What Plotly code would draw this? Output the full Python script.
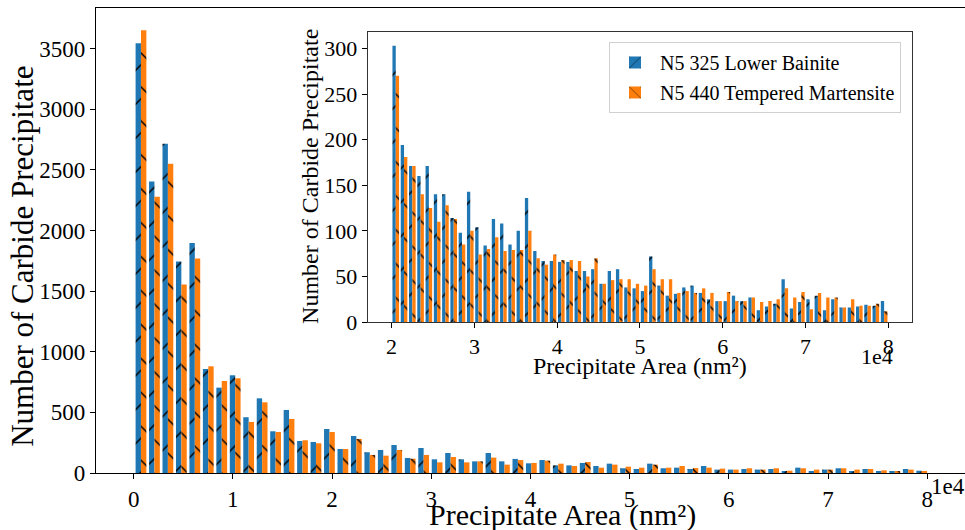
import numpy as np
import plotly.graph_objects as go

# ---------------- data ----------------
# Main histogram: 59 bins (area in nm^2)
main_bin_start = 62
main_bin_width = 1357
main_lower_bainite = [3544, 2405, 2716, 1745, 1896, 858, 704, 806, 460, 616,
                      344, 520, 264, 256, 363, 198, 305, 171, 190, 231,
                      124, 206, 113, 165, 113, 96, 165, 96, 116, 80,
                      107, 63, 63, 83, 58, 77, 39, 33, 77, 39,
                      44, 33, 58, 28, 28, 33, 28, 33, 14, 44,
                      14, 28, 39, 14, 33, 14, 14, 33, 19]
main_tempered_martensite = [3652, 2278, 2551, 1555, 1769, 880, 759, 781, 421, 583,
                            338, 446, 270, 245, 338, 198, 281, 149, 143, 190,
                            118, 149, 88, 132, 88, 96, 127, 69, 107, 83,
                            102, 77, 58, 91, 44, 69, 52, 44, 69, 44,
                            58, 41, 44, 36, 28, 39, 28, 39, 19, 39,
                            28, 28, 39, 28, 33, 22, 14, 28, 14]

# Inset histogram: 60 bins from 20000 to 80000 nm^2
inset_bin_start = 20000
inset_bin_width = 1000
inset_lower_bainite = [303, 194, 171, 160, 171, 140, 140, 114, 98, 143,
                       104, 84, 113, 108, 85, 100, 136,
                       78, 67, 67, 66, 66, 56, 56, 58, 42, 56, 58, 38, 37, 34, 72,
                       40, 29, 31, 38, 40, 32, 25, 23, 23, 29, 23, 27, 13, 17, 20,
                       47,
                       15, 22, 25, 29, 13, 25, 16, 16, 17, 19, 18, 23]
inset_tempered_martensite = [270, 181, 171, 140, 125, 110, 128, 113, 85, 100,
                             74, 80, 93, 78, 79, 79, 100,
                             70, 63, 74, 68, 68, 67, 50, 70, 42, 46, 47, 47, 42, 40, 58,
                             47, 47, 32, 34, 32, 37, 32, 23, 33, 23, 23, 27, 22, 23, 25,
                             37,
                             27, 33, 14, 32, 27, 27, 16, 25, 18, 18, 20, 12]

series_names = ["N5 325 Lower Bainite", "N5 440 Tempered Martensite"]
main_x_tickvals = [0, 10000, 20000, 30000, 40000, 50000, 60000, 70000, 80000]
main_x_ticktext = ["0", "1", "2", "3", "4", "5", "6", "7", "8"]
main_y_tickvals = [0, 500, 1000, 1500, 2000, 2500, 3000, 3500]
inset_x_tickvals = [20000, 30000, 40000, 50000, 60000, 70000, 80000]
inset_x_ticktext = ["2", "3", "4", "5", "6", "7", "8"]
inset_y_tickvals = [0, 50, 100, 150, 200, 250, 300]

# ---------------- styling ----------------
FONT = "Liberation Serif"
BLUE = "#1f77b4"
ORANGE = "#ff7f0e"

main_centers = main_bin_start + (np.arange(len(main_lower_bainite)) + 0.5) * main_bin_width
inset_centers = inset_bin_start + (np.arange(len(inset_lower_bainite)) + 0.5) * inset_bin_width


def pattern(shape):
    return dict(shape=shape, fgcolor="black", fgopacity=1, size=24,
                solidity=0.06, fillmode="overlay")


fig = go.Figure()
# main
fig.add_trace(go.Bar(x=main_centers, y=main_lower_bainite, name=series_names[0],
                     width=0.4 * main_bin_width, offset=-0.4 * main_bin_width,
                     marker=dict(color=BLUE, line=dict(width=0), pattern=pattern("/")),
                     xaxis="x", yaxis="y", showlegend=False))
fig.add_trace(go.Bar(x=main_centers, y=main_tempered_martensite, name=series_names[1],
                     width=0.4 * main_bin_width, offset=0,
                     marker=dict(color=ORANGE, line=dict(width=0), pattern=pattern("\\")),
                     xaxis="x", yaxis="y", showlegend=False))
# inset
fig.add_trace(go.Bar(x=inset_centers, y=inset_lower_bainite, name=series_names[0],
                     width=0.4 * inset_bin_width, offset=-0.4 * inset_bin_width,
                     marker=dict(color=BLUE, line=dict(width=0), pattern=pattern("/")),
                     xaxis="x2", yaxis="y2", legendgroup="a"))
fig.add_trace(go.Bar(x=inset_centers, y=inset_tempered_martensite, name=series_names[1],
                     width=0.4 * inset_bin_width, offset=0,
                     marker=dict(color=ORANGE, line=dict(width=0), pattern=pattern("\\")),
                     xaxis="x2", yaxis="y2", legendgroup="b"))

axis_common = dict(showgrid=False, zeroline=False, showline=True, mirror=True,
                   linecolor="black", linewidth=1.2, ticks="outside", ticklen=5,
                   tickwidth=1.2, tickcolor="black",
                   tickfont=dict(family=FONT, size=23, color="black"))

L, R, T, B = 96, 0, 8, 56.7
W, H = 965, 530
pw, ph = W - L - R, H - T - B


def px(xp):
    return (xp - L) / pw


def py(yp):
    return (H - B - yp) / ph


fig.update_layout(
    width=W, height=H, margin=dict(l=L, r=R, t=T, b=B),
    plot_bgcolor="white", paper_bgcolor="white",
    barmode="overlay",
    font=dict(family=FONT, color="black"),
    xaxis=dict(axis_common, domain=[0, 1], range=[-3793, 83810],
               tickvals=main_x_tickvals, ticktext=main_x_ticktext),
    yaxis=dict(axis_common, domain=[0, 1], range=[0, 3835],
               tickvals=main_y_tickvals),
    xaxis2=dict(axis_common, domain=[px(367.7), px(912.2)], anchor="y2",
                range=[17110, 82890], tickvals=inset_x_tickvals,
                ticktext=inset_x_ticktext, linewidth=1, linecolor="#333",
                tickfont=dict(family=FONT, size=22, color="black")),
    yaxis2=dict(axis_common, domain=[py(322.3), py(32)], anchor="x2",
                range=[0, 318], tickvals=inset_y_tickvals, linewidth=1,
                linecolor="#333", tickfont=dict(family=FONT, size=22, color="black")),
    legend=dict(x=px(901), y=py(42), xanchor="right", yanchor="top",
                bgcolor="white", bordercolor="#d0d0d0", borderwidth=1,
                font=dict(family=FONT, size=20, color="black"),
                itemwidth=40, tracegroupgap=1),
    showlegend=True,
)

ann = [
    dict(text="Precipitate Area (nm²)", x=px(562), y=py(515), size=30),
    dict(text="Number of Carbide Precipitate", x=px(23), y=py(257), size=31, angle=-90),
    dict(text="1e4", x=px(948), y=py(487), size=23),
    dict(text="Precipitate Area (nm²)", x=px(640), y=py(366), size=24),
    dict(text="Number of Carbide Precipitate", x=px(310), y=py(177), size=24, angle=-90),
    dict(text="1e4", x=px(877), y=py(357), size=22),
]
for a in ann:
    fig.add_annotation(text=a["text"], x=a["x"], y=a["y"], xref="paper", yref="paper",
                       xanchor="center", yanchor="middle", showarrow=False,
                       textangle=a.get("angle", 0),
                       font=dict(family=FONT, size=a["size"], color="black"))

fig.write_html("out.html", config={"displayModeBar": False},
               post_script="document.body.style.margin='0';"
                           "document.body.style.overflow='hidden';")
